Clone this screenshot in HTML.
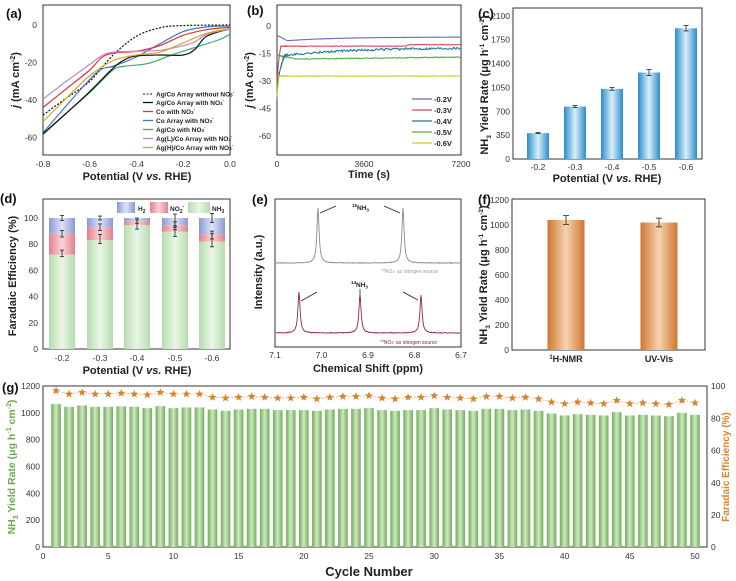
<!DOCTYPE html>
<html><head><meta charset="utf-8">
<style>
html,body{margin:0;padding:0;background:#fff;}
svg{display:block;font-family:"Liberation Sans",Arial,sans-serif;}
.t{font-size:8.5px;fill:#333;}
.b{font-weight:bold;font-size:11px;fill:#222;}
.p{font-weight:bold;font-size:13px;fill:#111;}
.lg{font-weight:bold;font-size:6.5px;fill:#222;}
</style></head><body>
<svg id="s" width="736" height="581" viewBox="0 0 736 581" xmlns="http://www.w3.org/2000/svg">
<defs>
<linearGradient id="gb" x1="0" x2="1"><stop offset="0" stop-color="#2b8dcc"/><stop offset="0.5" stop-color="#d9eefa"/><stop offset="1" stop-color="#2b8dcc"/></linearGradient>
<linearGradient id="go" x1="0" x2="1"><stop offset="0" stop-color="#cf7630"/><stop offset="0.5" stop-color="#f6d4b0"/><stop offset="1" stop-color="#cf7630"/></linearGradient>
<linearGradient id="gg" x1="0" x2="1"><stop offset="0" stop-color="#b5dcae"/><stop offset="0.5" stop-color="#eaf6e7"/><stop offset="1" stop-color="#b5dcae"/></linearGradient>
<linearGradient id="gr" x1="0" x2="1"><stop offset="0" stop-color="#e57f8c"/><stop offset="0.5" stop-color="#f8d6da"/><stop offset="1" stop-color="#e57f8c"/></linearGradient>
<linearGradient id="gu" x1="0" x2="1"><stop offset="0" stop-color="#8b98d4"/><stop offset="0.5" stop-color="#dfe3f5"/><stop offset="1" stop-color="#8b98d4"/></linearGradient>
<linearGradient id="gv" x1="0" x2="1"><stop offset="0" stop-color="#6fae55"/><stop offset="0.5" stop-color="#cfe8c4"/><stop offset="1" stop-color="#6fae55"/></linearGradient>
</defs>

<!-- ========== (a) ========== -->
<text class="p" x="6" y="18">(a)</text>
<rect x="43" y="5" width="187" height="150" fill="none" stroke="#333" stroke-width="1"/>
<g class="t" text-anchor="end">
<text x="37" y="28">0</text><text x="37" y="65.5">-20</text><text x="37" y="103">-40</text><text x="37" y="140.5">-60</text>
</g>
<g class="t" text-anchor="middle">
<text x="43" y="167">-0.8</text><text x="89.7" y="167">-0.6</text><text x="136.5" y="167">-0.4</text><text x="183.2" y="167">-0.2</text><text x="230" y="167">0.0</text>
</g>
<text class="b" x="137" y="180" text-anchor="middle">Potential (V <tspan font-style="italic">vs.</tspan> RHE)</text>
<text class="b" transform="translate(19,80) rotate(-90)" text-anchor="middle"><tspan font-style="italic">j</tspan> (mA cm<tspan font-size="7" dy="-4">-2</tspan><tspan dy="4">)</tspan></text>
<g id="acurves"></g>
<g class="lg">
<line x1="143" y1="94" x2="153" y2="94" stroke="#111" stroke-dasharray="2,1.5"/><text x="156" y="96.5">Ag/Co Array without NO<tspan font-size="4.5">3</tspan><tspan font-size="4.5" dy="-3">-</tspan></text>
<line x1="143" y1="102.5" x2="153" y2="102.5" stroke="#111" stroke-width="1.3"/><text x="156" y="105">Ag/Co Array with NO<tspan font-size="4.5">3</tspan><tspan font-size="4.5" dy="-3">-</tspan></text>
<line x1="143" y1="111.5" x2="153" y2="111.5" stroke="#e0343c" stroke-width="1.3"/><text x="156" y="114">Co with NO<tspan font-size="4.5">3</tspan><tspan font-size="4.5" dy="-3">-</tspan></text>
<line x1="143" y1="120.5" x2="153" y2="120.5" stroke="#3a78c2" stroke-width="1.3"/><text x="156" y="123">Co Array with NO<tspan font-size="4.5">3</tspan><tspan font-size="4.5" dy="-3">-</tspan></text>
<line x1="143" y1="129.5" x2="153" y2="129.5" stroke="#3aaa78" stroke-width="1.3"/><text x="156" y="132">Ag/Co with NO<tspan font-size="4.5">3</tspan><tspan font-size="4.5" dy="-3">-</tspan></text>
<line x1="143" y1="138.5" x2="153" y2="138.5" stroke="#b68ad0" stroke-width="1.3"/><text x="156" y="141">Ag(L)/Co Array with NO<tspan font-size="4.5">3</tspan><tspan font-size="4.5" dy="-3">-</tspan></text>
<line x1="143" y1="147.5" x2="153" y2="147.5" stroke="#d8a520" stroke-width="1.3"/><text x="156" y="150">Ag(H)/Co Array with NO<tspan font-size="4.5">3</tspan><tspan font-size="4.5" dy="-3">-</tspan></text>
</g>

<!-- ========== (b) ========== -->
<text class="p" x="247" y="15">(b)</text>
<rect x="277" y="5" width="184" height="150" fill="none" stroke="#333"/>
<g class="t" text-anchor="end">
<text x="271" y="29">0</text><text x="271" y="56.5">-15</text><text x="271" y="84">-30</text><text x="271" y="111.5">-45</text><text x="271" y="139">-60</text>
</g>
<g class="t" text-anchor="middle"><text x="277" y="167">0</text><text x="364" y="167">3600</text><text x="461" y="167">7200</text></g>
<text class="b" x="369" y="178" text-anchor="middle">Time (s)</text>
<text class="b" transform="translate(253,80) rotate(-90)" text-anchor="middle"><tspan font-style="italic">j</tspan> (mA cm<tspan font-size="7" dy="-4">-2</tspan><tspan dy="4">)</tspan></text>
<g id="bcurves"></g>
<g class="lg">
<line x1="412" y1="99" x2="432" y2="99" stroke="#6b6bb8" stroke-width="1.2"/><text x="434" y="102" font-size="7.5">-0.2V</text>
<line x1="412" y1="110" x2="432" y2="110" stroke="#d9465a" stroke-width="1.2"/><text x="434" y="113" font-size="7.5">-0.3V</text>
<line x1="412" y1="121" x2="432" y2="121" stroke="#1f7a96" stroke-width="1.2"/><text x="434" y="124" font-size="7.5">-0.4V</text>
<line x1="412" y1="132" x2="432" y2="132" stroke="#5aa845" stroke-width="1.2"/><text x="434" y="135" font-size="7.5">-0.5V</text>
<line x1="412" y1="143" x2="432" y2="143" stroke="#cccc22" stroke-width="1.2"/><text x="434" y="146" font-size="7.5">-0.6V</text>
</g>

<!-- ========== (c) ========== -->
<text class="p" x="478" y="18">(c)</text>
<rect x="513" y="8" width="189" height="151" fill="none" stroke="#333"/>
<g class="t" text-anchor="end" font-size="8">
<text x="510" y="162">0</text><text x="510" y="138">350</text><text x="510" y="114.5">700</text><text x="510" y="90.5">1050</text><text x="510" y="66.5">1400</text><text x="510" y="42.5">1750</text><text x="510" y="19">2100</text>
</g>
<g class="t" text-anchor="middle"><text x="538" y="170">-0.2</text><text x="575" y="170">-0.3</text><text x="612" y="170">-0.4</text><text x="649" y="170">-0.5</text><text x="686" y="170">-0.6</text></g>
<text class="b" x="607" y="182" text-anchor="middle">Potential (V <tspan font-style="italic">vs.</tspan> RHE)</text>
<text class="b" transform="translate(488,85) rotate(-90)" text-anchor="middle" font-size="10">NH<tspan font-size="6.5" dy="3">3</tspan><tspan dy="-3"> Yield Rate (μg h</tspan><tspan font-size="6.5" dy="-4">-1</tspan><tspan dy="4"> cm</tspan><tspan font-size="6.5" dy="-4">-2</tspan><tspan dy="4">)</tspan></text>
<g id="cbars"></g>

<!-- ========== (d) ========== -->
<text class="p" x="0" y="203">(d)</text>
<rect x="43" y="199" width="187" height="150" fill="none" stroke="#333"/>
<g class="t" text-anchor="end">
<text x="38" y="352">0</text><text x="38" y="325.8">20</text><text x="38" y="299.6">40</text><text x="38" y="273.4">60</text><text x="38" y="247.2">80</text><text x="38" y="221">100</text>
</g>
<g class="t" text-anchor="middle"><text x="62" y="361">-0.2</text><text x="100" y="361">-0.3</text><text x="137" y="361">-0.4</text><text x="175" y="361">-0.5</text><text x="212" y="361">-0.6</text></g>
<text class="b" x="137" y="374" text-anchor="middle">Potential (V <tspan font-style="italic">vs.</tspan> RHE)</text>
<text class="b" transform="translate(16,276) rotate(-90)" text-anchor="middle" font-size="10">Faradaic Efficiency (%)</text>
<g id="dbars"></g>
<rect x="117" y="202" width="18" height="11" fill="url(#gu)"/>
<text class="lg" x="138" y="211" font-size="7.5">H<tspan font-size="5" dy="2">2</tspan></text>
<rect x="150" y="202" width="18" height="11" fill="url(#gr)"/>
<text class="lg" x="170" y="211" font-size="7.5">NO<tspan font-size="5" dy="2">2</tspan><tspan font-size="5" dy="-5">-</tspan></text>
<rect x="188" y="202" width="22" height="11" fill="url(#gg)"/>
<text class="lg" x="212" y="211" font-size="7.5">NH<tspan font-size="5" dy="2">3</tspan></text>

<!-- ========== (e) ========== -->
<text class="p" x="252" y="204">(e)</text>
<rect x="275" y="199" width="186" height="148" fill="none" stroke="#333"/>
<g class="t" text-anchor="middle"><text x="275" y="358">7.1</text><text x="321.5" y="358">7.0</text><text x="368" y="358">6.9</text><text x="414.5" y="358">6.8</text><text x="461" y="358">6.7</text></g>
<text class="b" x="368" y="372" text-anchor="middle">Chemical Shift (ppm)</text>
<text class="b" transform="translate(262,272) rotate(-90)" text-anchor="middle">Intensity (a.u.)</text>
<g id="ecurves"></g>
<g stroke="#222" stroke-width="0.8" fill="#222">
<line x1="320" y1="213" x2="336" y2="206"/><line x1="400" y1="213" x2="384" y2="206"/>
<line x1="301" y1="301" x2="317" y2="292"/><line x1="360" y1="300" x2="360" y2="289"/><line x1="418" y1="300" x2="403" y2="292"/>
</g>
<text x="352" y="210" font-size="6.5" font-weight="bold" fill="#222"><tspan font-size="4.5" dy="-3">15</tspan><tspan dy="3">NH</tspan><tspan font-size="4.5" dy="1.5">3</tspan></text>
<text x="351" y="287" font-size="6.5" font-weight="bold" fill="#222"><tspan font-size="4.5" dy="-3">14</tspan><tspan dy="3">NH</tspan><tspan font-size="4.5" dy="1.5">3</tspan></text>
<text x="381" y="273" font-size="5" fill="#999"><tspan font-size="3.5" dy="-2">15</tspan><tspan dy="2">NO</tspan><tspan font-size="3.5">3</tspan><tspan font-size="3.5" dy="-2">-</tspan><tspan dy="2"> as nitrogen source</tspan></text>
<text x="380" y="344" font-size="5" fill="#8a2035"><tspan font-size="3.5" dy="-2">14</tspan><tspan dy="2">NO</tspan><tspan font-size="3.5">3</tspan><tspan font-size="3.5" dy="-2">-</tspan><tspan dy="2"> as nitrogen source</tspan></text>

<!-- ========== (f) ========== -->
<text class="p" x="478" y="204">(f)</text>
<rect x="512" y="199" width="193" height="151" fill="none" stroke="#333"/>
<g class="t" text-anchor="end" font-size="8">
<text x="509" y="353">0</text><text x="509" y="328">200</text><text x="509" y="303">400</text><text x="509" y="278">600</text><text x="509" y="253">800</text><text x="509" y="228">1000</text><text x="509" y="203">1200</text>
</g>
<text x="566" y="362" text-anchor="middle" font-size="9" font-weight="bold" fill="#222"><tspan font-size="6" dy="-3">1</tspan><tspan dy="3">H-NMR</tspan></text>
<text x="659" y="362" text-anchor="middle" font-size="9" font-weight="bold" fill="#222">UV-Vis</text>
<text class="b" transform="translate(487,275) rotate(-90)" text-anchor="middle" font-size="10">NH<tspan font-size="6.5" dy="3">3</tspan><tspan dy="-3"> Yield Rate (μg h</tspan><tspan font-size="6.5" dy="-4">-1</tspan><tspan dy="4"> cm</tspan><tspan font-size="6.5" dy="-4">-2</tspan><tspan dy="4">)</tspan></text>
<g id="fbars"></g>

<!-- ========== (g) ========== -->
<text class="p" x="2" y="392">(g)</text>
<rect x="43" y="386" width="664" height="161" fill="none" stroke="#333"/>
<g class="t" text-anchor="end" font-size="8">
<text x="40" y="550">0</text><text x="40" y="523">200</text><text x="40" y="496.5">400</text><text x="40" y="469.5">600</text><text x="40" y="442.5">800</text><text x="40" y="416">1000</text><text x="40" y="389">1200</text>
</g>
<g class="t" font-size="8">
<text x="711" y="550">0</text><text x="711" y="518">20</text><text x="711" y="486">40</text><text x="711" y="453.5">60</text><text x="711" y="421.5">80</text><text x="711" y="389">100</text>
</g>
<g class="t" text-anchor="middle" font-size="8.5">
<text x="43" y="559">0</text><text x="108.2" y="559">5</text><text x="173.4" y="559">10</text><text x="238.6" y="559">15</text><text x="303.8" y="559">20</text><text x="369" y="559">25</text><text x="434.2" y="559">30</text><text x="499.4" y="559">35</text><text x="564.6" y="559">40</text><text x="629.8" y="559">45</text><text x="695" y="559">50</text>
</g>
<text x="369" y="576" text-anchor="middle" font-size="13" font-weight="bold" fill="#222">Cycle Number</text>
<text transform="translate(15,467) rotate(-90)" text-anchor="middle" font-size="10.5" font-weight="bold" fill="#6aaa4a">NH<tspan font-size="7" dy="3">3</tspan><tspan dy="-3"> Yield Rate (μg h</tspan><tspan font-size="7" dy="-4">-1</tspan><tspan dy="4"> cm</tspan><tspan font-size="7" dy="-4">-2</tspan><tspan dy="4">)</tspan></text>
<text transform="translate(729,467) rotate(-90)" text-anchor="middle" font-size="10" font-weight="bold" fill="#d9822b">Faradaic Efficiency (%)</text>
<g id="gbars"></g>
</svg>
<script>
const NS='http://www.w3.org/2000/svg';
function add(parent,tag,attrs){const e=document.createElementNS(NS,tag);for(const k in attrs)e.setAttribute(k,attrs[k]);document.getElementById(parent).appendChild(e);return e;}
function smooth(p){let d='M'+p[0][0].toFixed(2)+','+p[0][1].toFixed(2);
 for(let i=0;i<p.length-1;i++){const a=p[Math.max(i-1,0)],b=p[i],c=p[i+1],e=p[Math.min(i+2,p.length-1)];
  const c1=[b[0]+(c[0]-a[0])/6,b[1]+(c[1]-a[1])/6],c2=[c[0]-(e[0]-b[0])/6,c[1]-(e[1]-b[1])/6];
  d+='C'+c1[0].toFixed(2)+','+c1[1].toFixed(2)+' '+c2[0].toFixed(2)+','+c2[1].toFixed(2)+' '+c[0].toFixed(2)+','+c[1].toFixed(2);}
 return d;}
const ax=v=>43+(v+0.8)*233.75, ay=j=>25-1.875*j;
const A=[
 ['#111','2,1.5',[[-0.8,-48],[-0.7,-39],[-0.6,-30],[-0.5,-16],[-0.4,-6],[-0.3,-1.5],[-0.2,-0.3],[0,0]]],
 ['#3aaa78',null,[[-0.8,-58.5],[-0.7,-47],[-0.6,-36],[-0.5,-24],[-0.45,-22],[-0.35,-20.5],[-0.25,-16],[-0.15,-12],[-0.05,-8],[0,-5]]],
 ['#3a78c2',null,[[-0.8,-57.5],[-0.7,-43],[-0.6,-29],[-0.55,-23.5],[-0.5,-22],[-0.4,-17],[-0.3,-10],[-0.2,-3.5],[-0.1,-1],[0,-0.5]]],
 ['#111',null,[[-0.8,-58],[-0.7,-47],[-0.6,-35.5],[-0.5,-23],[-0.45,-18.5],[-0.4,-16.5],[-0.3,-16],[-0.2,-16],[-0.15,-13],[-0.1,-6],[0,-2]]],
 ['#e0343c',null,[[-0.8,-44],[-0.7,-34],[-0.6,-24],[-0.55,-17.5],[-0.5,-15],[-0.4,-14],[-0.3,-11],[-0.2,-5.5],[-0.1,-2.5],[0,-1.2]]],
 ['#b68ad0',null,[[-0.8,-39.5],[-0.7,-30],[-0.6,-21],[-0.55,-16.5],[-0.5,-14.5],[-0.4,-14],[-0.3,-13.5],[-0.2,-11],[-0.15,-9],[-0.1,-5],[0,-2]]],
 ['#d8a520',null,[[-0.8,-51.5],[-0.7,-39],[-0.6,-27],[-0.5,-19],[-0.4,-16],[-0.3,-14.5],[-0.2,-9.5],[-0.1,-4.5],[0,-2]]]
];
A.forEach(([c,da,pts])=>{const at={d:smooth(pts.map(p=>[ax(p[0]),ay(p[1])])),fill:'none',stroke:c,'stroke-width':1.2};if(da)at['stroke-dasharray']=da;add('acurves','path',at);});
const bx=t=>277+t*184/7200, by=j=>26-1.8333*j;
function noisy(base,amp,seed){let s=seed;return t=>{s=(s*9301+49297)%233280;return base(t)+(s/233280-0.5)*amp;};}
const B=[
 ['#6b6bb8',t=>t<400?-5-3*(t/400):-8+2*(1-Math.exp(-(t-400)/2000)),0.1],
 ['#d9465a',t=>t<150?-40+29*(t/150)**0.4:(t<5000?-11:(t<5300?-11+1*(t-5000)/300:-10.2)),0.3],
 ['#5aa845',t=>t<800?-16-2*(t/800):-18+1*(t-800)/6400,0.5],
 ['#1f7a96',t=>t<300?-38+22*(t/300)**0.5:-16+4.4*(1-Math.exp(-(t-300)/3000)),1.2],
 ['#cccc22',t=>t<80?-38+11*(t/80):-27.3,0.3]
];
B.forEach(([c,f,amp],k)=>{const g=noisy(f,amp,k*77+13);let pts=[];for(let t=0;t<=7200;t+=(t<400?10:40))pts.push(bx(t).toFixed(2)+','+by(g(t)).toFixed(2));add('bcurves','polyline',{points:pts.join(' '),fill:'none',stroke:c,'stroke-width':1.1});});
function errbar(g,x,y1,y2,w){add(g,'line',{x1:x,y1:y1,x2:x,y2:y2,stroke:'#222','stroke-width':0.8});
 add(g,'line',{x1:x-w,y1:y1,x2:x+w,y2:y1,stroke:'#222','stroke-width':0.8});add(g,'line',{x1:x-w,y1:y2,x2:x+w,y2:y2,stroke:'#222','stroke-width':0.8});}
const cy=v=>159-v*0.0681;
[[538,380,8],[575,770,15],[612,1030,20],[649,1270,45],[686,1920,40]].forEach(([x,v,e])=>{
 add('cbars','rect',{x:x-11,y:cy(v),width:22,height:159-cy(v),fill:'url(#gb)'});
 errbar('cbars',x,cy(v+e),cy(v-e),2.5);});
const dy=p=>349-p*1.31;
[[62,72,16,12],[100,83,10,7],[137,94.5,3,2.5],[175,89.5,5,5.5],[212,82,5.5,12.5]].forEach(([x,n,r,h])=>{
 add('dbars','rect',{x:x-13,y:dy(n),width:26,height:n*1.31,fill:'url(#gg)'});
 add('dbars','rect',{x:x-13,y:dy(n+r),width:26,height:r*1.31,fill:'url(#gr)'});
 add('dbars','rect',{x:x-13,y:dy(100),width:26,height:h*1.31,fill:'url(#gu)'});
});
[[62,73,2.5],[62,88,2.5],[62,100,2],[100,84,3.5],[100,93,2.5],[100,100,1.5],[137,95,3.5],[137,98,2],[175,90,4],[175,94,3],[175,98,5],[212,83,5],[212,87,3],[212,100,3.5]].forEach(([x,v,e])=>errbar('dbars',x,dy(v+e),dy(v-e),2));
function spec(base,peaks,col,seed){let s=seed,pts=[];for(let x=276;x<=460;x+=0.5){let y=base;peaks.forEach(([px,h])=>{const d=(x-px)/1.3;y-=h/(1+d*d);});s=(s*9301+49297)%233280;y+=(s/233280-0.5)*0.7;pts.push(x.toFixed(1)+','+y.toFixed(2));}
 add('ecurves','polyline',{points:pts.join(' '),fill:'none',stroke:col,'stroke-width':0.9});}
spec(263,[[318,55],[403,55]],'#8a8a8a',5);
spec(333,[[299,41],[360,38],[421,38]],'#8a2a45',9);
const fy=v=>350-v*0.125;
[[566,1040,35],[659,1020,35]].forEach(([x,v,e])=>{add('fbars','rect',{x:x-18.5,y:fy(v),width:37,height:v*0.125,fill:'url(#go)'});errbar('fbars',x,fy(v+e),fy(v-e),3);});
const Y=[1065,1045,1055,1045,1045,1048,1045,1035,1050,1035,1040,1040,1025,1015,1025,1030,1030,1020,1020,1020,1015,1025,1030,1030,1035,1020,1015,1020,1020,1035,1025,1020,1015,1030,1030,1020,1025,1015,995,980,990,985,980,1005,980,985,980,975,1000,985];
const F=[97,95,96,95,95,95.5,95,94.5,96,95,95,95,93,92.5,93,93.5,93,92.5,92.5,93,92,93,93.5,93.5,94,92.5,92,93,93,94,93,92.5,92,93.5,93.5,92.5,93,92,90,89,90,89.5,89,91,89,89.5,89,88.5,91,89.5];
const gx=i=>43+i*13.04, gy=v=>547-v*161/1200, gf=p=>547-p*1.61;
Y.forEach((v,k)=>{const x=gx(k+1);add('gbars','rect',{x:x-4.8,y:gy(v),width:9.6,height:547-gy(v),fill:'url(#gv)'});});
add('gbars','polyline',{points:F.map((p,k)=>gx(k+1).toFixed(1)+','+gf(p).toFixed(1)).join(' '),fill:'none',stroke:'#d9822b','stroke-width':0.6,'stroke-dasharray':'1.5,1.5'});
function star(cx,cy,R){let p=[];for(let i=0;i<10;i++){const r=i%2?R*0.42:R,a=-Math.PI/2+i*Math.PI/5;p.push((cx+r*Math.cos(a)).toFixed(2)+','+(cy+r*Math.sin(a)).toFixed(2));}return p.join(' ');}
F.forEach((p,k)=>add('gbars','polygon',{points:star(gx(k+1),gf(p),4.3),fill:'#d9822b'}));
</script>
</body></html>
